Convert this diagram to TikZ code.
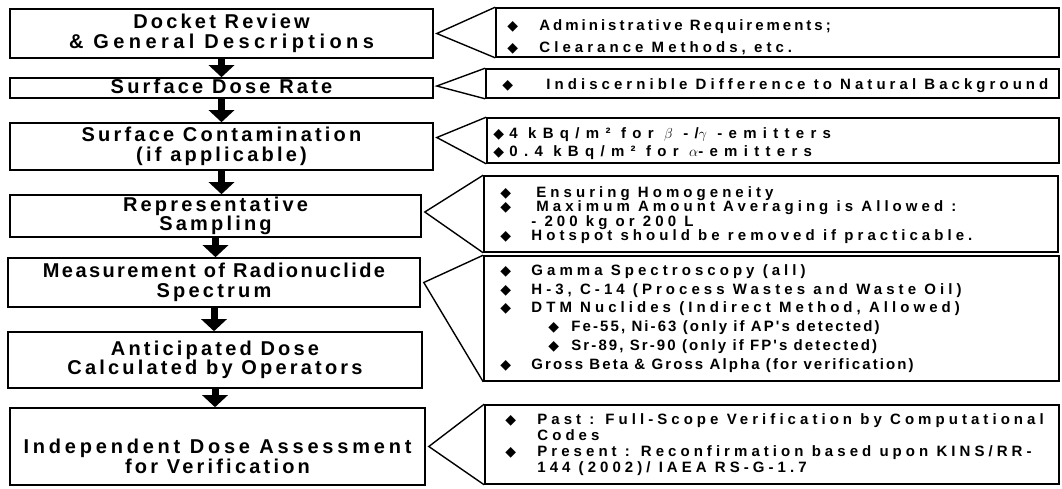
\documentclass[tikz,border=0pt]{standalone}
\usepackage{fontspec}
\setmainfont{Liberation Sans}
\newfontfamily\lfont[LetterSpace=16]{Liberation Sans}
\newfontfamily\rfont[LetterSpace=27]{Liberation Sans}
\newfontfamily\symfont{DejaVu Sans}
\usetikzlibrary{arrows.meta}
\tikzset{
  lbox/.style={draw, line width=1.6pt, inner sep=0pt, align=center,
    font=\lfont\fontsize{20}{19.5}\selectfont\bfseries},
  rbox/.style={draw, line width=1.6pt, inner sep=0pt},
  rtext/.style={inner sep=0pt, anchor=west, align=left,
    font=\rfont\fontsize{15}{#1}\selectfont\bfseries},
  flow/.style={line width=7pt, -{Triangle[width=25pt,length=12pt]}},
  callout/.style={line width=1.4pt}
}
\newcommand\dmd[1]{\makebox[#1pt][l]{\symfont\fontsize{14}{14}\selectfont ◆}}
\newcommand\spaced[2]{{\addfontfeature{LetterSpace=#1}#2}}
\begin{document}
\begin{tikzpicture}[x=1pt, y=-1pt]
  \useasboundingbox (0,0) rectangle (1062,488);
  % steps
  \node[lbox, minimum width=423pt, minimum height=49pt] (docket) at (221.5,33.5) {Docket Review\\\spaced{22}{\& General Descriptions}};
  \node[lbox, minimum width=423pt, minimum height=20pt, text height=13pt, text depth=3pt] (doserate) at (221.5,88) {Surface Dose Rate};
  \node[lbox, minimum width=423pt, minimum height=47pt] (contam) at (221.5,146.5) {Surface Contamination\\(if applicable)};
  \node[lbox, minimum width=411pt, minimum height=42pt] (sampling) at (215.5,216) {Representative\\Sampling};
  \node[lbox, minimum width=412pt, minimum height=49pt] (spectrum) at (214,282.5) {\spaced{12}{Measurement of Radionuclide}\\Spectrum};
  \node[lbox, minimum width=414pt, minimum height=56pt] (anticip) at (215,360) {Anticipated Dose\\Calculated by Operators};
  \node[lbox, minimum width=415pt, minimum height=77pt, text height=54pt] (assess) at (217.5,446.5) {\spaced{19}{Independent Dose Assessment}\\for Verification};
  % criteria
  \node[rbox, minimum width=563pt, minimum height=49pt] (admin) at (777.5,32.5) {};
  \node[rtext=22] (admintext) at ([xshift=12pt,yshift=-5pt]admin.west)
    {\dmd{32}\spaced{20}{Administrative Requirements;}\\\dmd{32}Clearance Methods, etc.};
  \node[rbox, minimum width=573pt, minimum height=29pt] (background) at (772.5,83.5) {};
  \node[rtext=18] (backgroundtext) at ([xshift=17pt,yshift=-2pt]background.west)
    {\dmd{44}Indiscernible Difference to Natural Background};
  \node[rbox, minimum width=572pt, minimum height=45pt] (emitters) at (773,140.5) {};
  \node[rtext=18] (emitterstext) at ([xshift=7pt,yshift=-3pt]emitters.west)
    {\dmd{16}\spaced{42}{4 kBq/m² for $\beta$ -/$\gamma$ -emitters}\\\dmd{16}\spaced{42}{0.4 kBq/m² for $\alpha$-emitters}};
  \node[rbox, minimum width=574pt, minimum height=76pt] (homog) at (771,214) {};
  \node[rtext=14.3] (homogtext) at ([xshift=17pt,yshift=-1pt]homog.west)
    {\dmd{36}Ensuring Homogeneity\\\dmd{36}Maximum Amount Averaging is Allowed :\\\hspace*{31pt}- 200 kg or 200 L\\\dmd{31}Hotspot should be removed if practicable.};
  \node[rbox, minimum width=575pt, minimum height=125pt] (nuclides) at (771.5,318.5) {};
  \node[rtext=18.8] (nuclidestext) at ([xshift=17pt]nuclides.west)
    {\dmd{31}Gamma Spectroscopy (all)\\
     \dmd{31}H-3, C-14 (Process Wastes and Waste Oil)\\
     \dmd{31}DTM Nuclides (Indirect Method, Allowed)\\
     \hspace*{48pt}\dmd{23}\spaced{14}{Fe-55, Ni-63 (only if AP's detected)}\\
     \hspace*{48pt}\dmd{23}\spaced{14}{Sr-89, Sr-90 (only if FP's detected)}\\
     \dmd{31}\spaced{14}{Gross Beta \& Gross Alpha (for verification)}};
  \node[rbox, minimum width=574pt, minimum height=79pt] (codes) at (772,444.5) {};
  \node[rtext=16] (codestext) at ([xshift=21pt]codes.west)
    {\dmd{32}Past : Full-Scope Verification by Computational\\\hspace*{32pt}Codes\\\dmd{32}\spaced{27}{Present : Reconfirmation based upon KINS/RR-}\\\hspace*{32pt}144 (2002)/ IAEA RS-G-1.7};
  \foreach \a/\b in {docket/doserate, doserate/contam, contam/sampling, sampling/spectrum, spectrum/anticip, anticip/assess}
    \draw[flow] (\a.south) -- (\a.south |- \b.north);
  \foreach \a/\b/\s in {docket/admin/0, doserate/background/2, contam/emitters/9, sampling/homog/4, spectrum/nuclides/0, assess/codes/0}
    \draw[callout] (\b.north west) -- ([xshift=3pt,yshift=\s pt]\a.east) -- (\b.south west);
\end{tikzpicture}
\end{document}
